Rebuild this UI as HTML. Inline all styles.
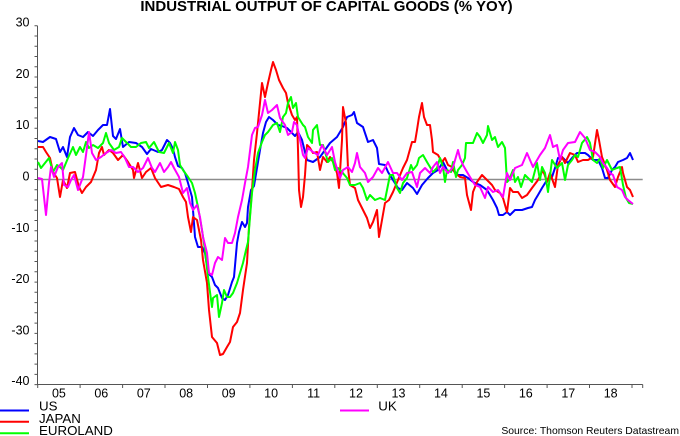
<!DOCTYPE html>
<html><head><meta charset="utf-8"><style>
html,body{margin:0;padding:0;background:#fff;}
svg{display:block;}
text{font-family:"Liberation Sans",Arial,sans-serif;fill:#000;}
</style></head><body>
<svg width="680" height="436" viewBox="0 0 680 436" xmlns="http://www.w3.org/2000/svg">
<rect width="680" height="436" fill="#fff"/>
<text x="326.5" y="11" font-size="15" font-weight="bold" text-anchor="middle">INDUSTRIAL OUTPUT OF CAPITAL GOODS (% YOY)</text>
<!-- zero line -->
<line x1="37.5" y1="179.5" x2="642.7" y2="179.5" stroke="#8c8c8c" stroke-width="1.6"/>
<!-- axes -->
<g stroke="#555" stroke-width="1" fill="none">
<line x1="37.5" y1="25.7" x2="37.5" y2="384.5"/>
<line x1="37.5" y1="384.5" x2="642.7" y2="384.5"/>
<path d="M34.5 25.7H37.5M34.5 36H37.5M34.5 46.2H37.5M34.5 56.5H37.5M34.5 66.8H37.5M34.5 77H37.5M34.5 87.3H37.5M34.5 97.6H37.5M34.5 107.7H37.5M34.5 118H37.5M34.5 128.2H37.5M34.5 138.5H37.5M34.5 148.7H37.5M34.5 159H37.5M34.5 169.2H37.5M34.5 179.5H37.5M34.5 189.8H37.5M34.5 200H37.5M34.5 210.3H37.5M34.5 220.5H37.5M34.5 230.8H37.5M34.5 241H37.5M34.5 251.3H37.5M34.5 261.5H37.5M34.5 271.8H37.5M34.5 282.1H37.5M34.5 292.3H37.5M34.5 302.6H37.5M34.5 312.8H37.5M34.5 323.1H37.5M34.5 333.4H37.5M34.5 343.6H37.5M34.5 353.9H37.5M34.5 364.1H37.5M34.5 374.4H37.5M34.5 384.6H37.5"/>
<path d="M37.7 384.5V388M80.1 384.5V388M122.6 384.5V388M165 384.5V388M207.5 384.5V388M249.9 384.5V388M292.4 384.5V388M334.8 384.5V388M377.3 384.5V388M419.7 384.5V388M462.2 384.5V388M504.6 384.5V388M547.1 384.5V388M589.5 384.5V388M632 384.5V388M642.7 384.5V388"/>
</g>
<!-- y labels -->
<g font-size="12.5" text-anchor="end">
<text x="29.5" y="26.5">30</text>
<text x="29.5" y="78">20</text>
<text x="29.5" y="129.2">10</text>
<text x="29.5" y="180.5">0</text>
<text x="29.5" y="231.8">-10</text>
<text x="29.5" y="283.1">-20</text>
<text x="29.5" y="334.4">-30</text>
<text x="29.5" y="385.2">-40</text>
</g>
<!-- x labels -->
<g font-size="12.5" text-anchor="middle">
<text x="58.9" y="397.7">05</text>
<text x="101.3" y="397.7">06</text>
<text x="143.8" y="397.7">07</text>
<text x="186.2" y="397.7">08</text>
<text x="228.7" y="397.7">09</text>
<text x="271.1" y="397.7">10</text>
<text x="313.6" y="397.7">11</text>
<text x="356" y="397.7">12</text>
<text x="398.5" y="397.7">13</text>
<text x="440.9" y="397.7">14</text>
<text x="483.4" y="397.7">15</text>
<text x="525.8" y="397.7">16</text>
<text x="568.3" y="397.7">17</text>
<text x="610.7" y="397.7">18</text>
</g>
<g fill="none" stroke-width="2" stroke-linejoin="round">
<!-- US -->
<polyline stroke="#0000ff" points="38,141 43,142 50,137 56,139 60,152 63,147 67,157 70,137 74,128 78,135 83,137 88,132 93,136 98,130 103,125 107,125 110,109 113,136 116,139 120,129 123,147 129,142 136,143 142,147 147,154 151,149 158,152 162,150 167,140 170,143 173,149 175,157 178,166 182,168 185,173 188,183 192,197 193,210 195,237 198,247 202,247 205,253 208,273 212,277 215,285 218,288 222,298 225,300 228,295 232,282 234,277 237,243 239,232 242,222 245,227 247,223 248,207 251,190 254,186 257,168 260,150 263,133 266,122 269,117 273,120 278,125 282,126 287,128 292,133 295,136 298,132 302,140 307,160 313,162 320,157 330,143 337,137 343,127 347,117 352,115 354,112 357,123 363,127 368,142 373,140 377,148 379,164 385,165 388,172 393,180 398,188 402,190 407,183 413,188 417,194 422,185 428,178 433,173 438,170 443,162 448,172 453,170 458,175 463,175 468,178 473,182 480,185 487,190 493,200 497,208 499,215 503,215 507,212 510,215 515,210 522,210 528,208 532,207 535,200 538,195 542,188 547,180 552,177 555,168 558,158 562,157 565,160 568,163 572,158 577,153 582,153 585,153 588,155 593,160 598,160 602,168 605,178 608,178 612,170 615,167 618,162 623,160 627,158 630,153 633,160"/>
<!-- JAPAN -->
<polyline stroke="#ff0000" points="38,147 43,147 46,152 50,158 53,172 57,178 60,197 63,180 67,188 70,173 75,172 79,187 82,193 86,187 91,182 96,170 99,153 102,147 104,155 109,150 113,153 118,160 123,155 128,162 133,170 134,178 138,163 142,178 146,172 151,168 155,178 161,187 168,185 174,187 179,189 183,197 186,202 188,217 191,232 193,217 197,220 201,240 203,260 207,283 209,310 212,337 217,343 220,355 223,354 227,347 230,342 233,327 237,322 240,313 243,290 247,263 249,227 252,190 254,160 257,133 260,103 262,83 265,97 268,83 271,70 273,62 276,70 279,80 283,88 286,93 288,103 292,115 295,120 297,117 298,150 299,190 301,207 303,197 305,175 307,145 310,148 313,153 317,152 320,170 323,157 327,162 330,157 333,162 337,173 339,188 342,140 343,107 346,123 348,168 350,185 355,188 358,200 363,210 367,218 370,228 373,222 377,210 379,237 382,220 385,203 389,200 393,192 398,180 403,168 407,160 412,142 415,142 417,130 419,117 422,103 424,117 427,125 430,125 432,140 433,152 438,155 442,162 445,158 448,165 452,167 455,173 460,177 465,178 467,195 471,210 473,192 477,182 482,175 487,180 492,185 495,190 500,193 503,198 507,212 510,188 513,192 518,192 522,198 527,195 532,188 538,180 543,170 547,182 550,173 555,187 558,165 562,157 565,163 570,153 575,155 578,162 583,160 588,160 593,157 597,130 599,140 602,157 607,170 610,180 615,187 618,177 622,167 623,173 627,187 630,190 633,197"/>
<!-- EUROLAND -->
<polyline stroke="#00ff00" points="38,162 41,168 45,163 49,158 53,172 57,165 60,167 63,170 68,158 73,147 76,155 80,147 83,152 86,142 89,148 93,145 98,148 103,143 106,133 109,143 114,150 119,147 122,138 126,142 131,147 136,147 141,143 146,142 149,148 154,142 159,152 164,153 169,143 173,153 175,142 178,150 180,165 183,170 188,177 192,183 195,193 198,207 202,230 205,250 208,277 212,307 213,298 217,295 219,317 222,303 224,290 227,297 230,297 233,293 237,283 240,273 243,263 246,250 248,242 250,217 252,193 255,170 258,153 262,142 265,135 268,132 273,125 277,123 280,132 283,117 286,113 288,103 291,97 293,108 296,103 298,117 303,125 305,127 308,137 312,143 313,130 317,125 320,145 323,145 328,162 332,158 335,170 338,168 342,172 347,178 350,185 355,185 360,183 363,188 367,200 370,195 375,200 380,198 385,200 387,190 390,175 393,175 397,188 400,193 403,183 407,178 411,165 413,170 417,165 419,158 423,155 427,162 430,167 433,172 437,168 440,158 443,167 445,182 447,170 451,172 453,162 456,177 458,170 462,165 465,158 466,143 468,143 473,143 477,133 480,137 483,143 487,135 488,126 492,140 495,137 498,147 502,142 505,148 507,182 509,180 513,170 515,182 518,177 521,187 525,175 528,178 532,182 537,163 540,180 542,167 545,173 548,192 552,160 557,168 562,163 565,180 568,165 572,160 575,155 578,157 582,143 587,137 590,143 593,160 597,163 600,158 603,168 607,160 612,170 617,168 620,167 623,185 626,198 629,203 633,204"/>
<!-- UK -->
<polyline stroke="#ff00ff" points="38,178 42,179 46,215 49,183 51,167 54,177 58,167 62,163 64,185 68,187 71,180 74,175 78,190 83,177 86,155 89,132 92,153 96,160 101,157 106,153 111,150 116,153 121,152 125,158 129,167 133,167 138,172 143,168 148,158 152,168 155,172 160,163 164,172 168,167 171,162 174,168 179,177 183,193 187,188 190,203 193,210 197,205 200,217 203,237 207,253 209,273 212,275 215,263 218,257 222,260 225,238 228,243 232,243 235,233 238,217 242,200 245,183 248,167 252,135 255,128 258,127 262,115 265,100 268,113 272,110 277,105 280,118 285,125 288,135 292,132 294,122 297,125 300,140 303,155 305,158 308,148 313,152 318,155 322,145 327,155 332,147 335,162 340,178 343,170 348,167 352,172 355,163 357,153 360,167 365,173 368,182 373,177 378,168 382,173 388,162 393,173 397,173 402,180 407,173 412,172 417,187 420,173 425,168 430,173 433,167 437,162 440,173 443,167 448,173 453,167 458,150 460,158 463,165 467,172 470,177 475,185 480,187 485,198 488,187 493,192 498,190 503,197 507,173 510,180 515,168 522,165 527,153 530,160 533,167 540,155 545,148 550,135 553,147 557,145 560,160 563,150 568,143 575,142 580,132 585,138 590,150 595,152 600,157 603,163 607,168 610,173 613,175 617,187 622,190 625,197 628,200 633,204"/>
</g>
<!-- legend -->
<g stroke-width="2">
<line x1="0" y1="410.5" x2="29" y2="410.5" stroke="#0000ff"/>
<line x1="0" y1="421.8" x2="29" y2="421.8" stroke="#ff0000"/>
<line x1="0" y1="433.3" x2="29" y2="433.3" stroke="#00ff00"/>
<line x1="340" y1="410.5" x2="369" y2="410.5" stroke="#ff00ff"/>
</g>
<g font-size="13.3">
<text x="39" y="410.5">US</text>
<text x="39" y="422.8">JAPAN</text>
<text x="39" y="435">EUROLAND</text>
<text x="378.3" y="410.5">UK</text>
</g>
<text x="679" y="434" font-size="10.4" text-anchor="end">Source: Thomson Reuters Datastream</text>
</svg>
</body></html>
